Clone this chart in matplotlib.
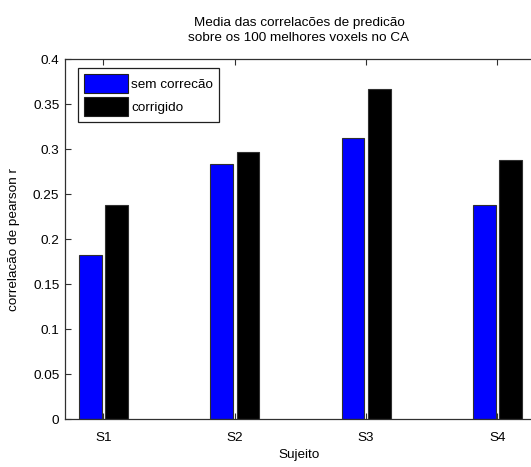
import matplotlib
matplotlib.use("Agg")
import matplotlib.pyplot as plt
import numpy as np

# ---- data ----
categories = ["S1", "S2", "S3", "S4"]
sem_correcao = [0.183, 0.284, 0.313, 0.238]
corrigido = [0.238, 0.297, 0.367, 0.288]
series_labels = ["sem correcão", "corrigido"]
ytick_values = [0, 0.05, 0.1, 0.15, 0.2, 0.25, 0.3, 0.35, 0.4]
ytick_labels = ["0", "0.05", "0.1", "0.15", "0.2", "0.25", "0.3", "0.35", "0.4"]
title_text = "Media das correlacões de predicão\nsobre os 100 melhores voxels no CA"
xlabel_text = "Sujeito"
ylabel_text = "correlacão de pearson r"

plt.rcParams['font.family'] = ['Liberation Sans', 'DejaVu Sans']
FS = 9.7

W, H = 531, 467
fig = plt.figure(figsize=(W / 100, H / 100), dpi=100)
ax_left, ax_right, ax_top, ax_bottom = 65, 533, 59.3, 419.3
ax = fig.add_axes([ax_left / W, (H - ax_bottom) / H,
                   (ax_right - ax_left) / W, (ax_bottom - ax_top) / H])

x = np.arange(1, len(categories) + 1)
width = 0.172
off = 0.1
ax.bar(x - off, sem_correcao, width, color=(0, 0, 1), edgecolor='#303030',
       linewidth=0.8, label=series_labels[0], zorder=2)
ax.bar(x + off, corrigido, width, color=(0, 0, 0), edgecolor='#303030',
       linewidth=0.8, label=series_labels[1], zorder=2)

ax.set_xlim(0.7068, 4.271)
ax.set_ylim(0, 0.4)
ax.set_xticks(x)
ax.set_xticklabels(categories, fontsize=FS)
ax.set_yticks(ytick_values)
ax.set_yticklabels(ytick_labels, fontsize=FS)
ax.tick_params(axis='both', direction='in', length=4, width=0.8, color='#303030')
ax.tick_params(axis='x', top=True, pad=9)
ax.tick_params(axis='y', pad=4)
for s in ['left', 'top', 'bottom']:
    ax.spines[s].set_linewidth(0.9)
    ax.spines[s].set_color('#303030')
ax.spines['right'].set_visible(False)

ax.set_xlabel(xlabel_text, fontsize=FS, labelpad=4)
ax.set_ylabel(ylabel_text, fontsize=FS, labelpad=9)
ax.set_title(title_text, fontsize=FS, linespacing=1.4, pad=13)

axw = ax_right - ax_left
axh = ax_bottom - ax_top
leg = ax.legend(loc='upper left',
                bbox_to_anchor=((77.7 - ax_left) / axw, 1 - (68.3 - ax_top) / axh),
                borderaxespad=0, fontsize=FS, frameon=True, fancybox=False,
                shadow=False, handlelength=3.3, handleheight=1.75,
                labelspacing=0.3, handletextpad=0.22, borderpad=0.45)
leg.get_frame().set_edgecolor('#202020')
leg.get_frame().set_linewidth(0.9)
leg.get_frame().set_alpha(1)
for p in leg.get_patches():
    p.set_edgecolor('#202020')

fig.savefig("out.png", dpi=100, facecolor='white')
